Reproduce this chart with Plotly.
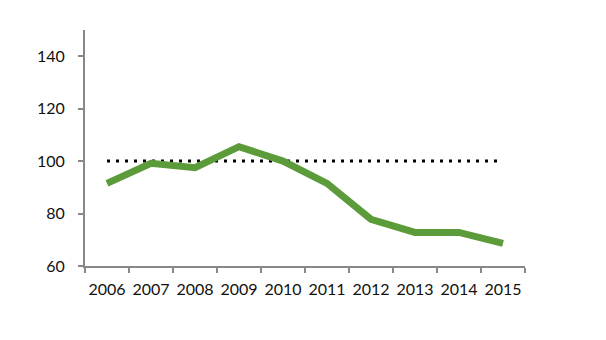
import plotly.graph_objects as go

years = ["2006", "2007", "2008", "2009", "2010", "2011", "2012", "2013", "2014", "2015"]
index_values = [91.5, 99.2, 97.5, 105.5, 100.0, 91.5, 77.8, 72.8, 72.8, 68.6]
baseline = [100] * len(years)

y_ticks = [60, 80, 100, 120, 140]

fig = go.Figure()

# reference level at 100
fig.add_trace(go.Scatter(
    x=years, y=baseline, mode="lines",
    line=dict(color="#000000", width=3, dash="3px,6px"),
    hoverinfo="skip", showlegend=False,
))

# index series
fig.add_trace(go.Scatter(
    x=years, y=index_values, mode="lines",
    line=dict(color="#5B9B3A", width=7),
    showlegend=False,
))

axis_color = "#888888"
font = dict(family="Lato, 'Open Sans', sans-serif", size=16, color="#111111")

fig.update_layout(
    width=606, height=340,
    margin=dict(l=85, r=81, t=30, b=74),
    paper_bgcolor="white", plot_bgcolor="white",
    font=font,
    xaxis=dict(
        type="category", range=[-0.5, 9.5],
        showgrid=False, zeroline=False,
        showline=True, linecolor=axis_color, linewidth=2,
        ticks="outside", tickson="boundaries", ticklen=5,
        tickcolor=axis_color, tickwidth=2,
        tickangle=0, ticklabelstandoff=8,
    ),
    yaxis=dict(
        range=[60, 150], tickvals=y_ticks,
        showgrid=False, zeroline=False,
        showline=True, linecolor=axis_color, linewidth=2,
        ticks="outside", ticklen=5, tickcolor=axis_color, tickwidth=2,
        ticklabelstandoff=10,
    ),
)

fig.write_html("out.html")
